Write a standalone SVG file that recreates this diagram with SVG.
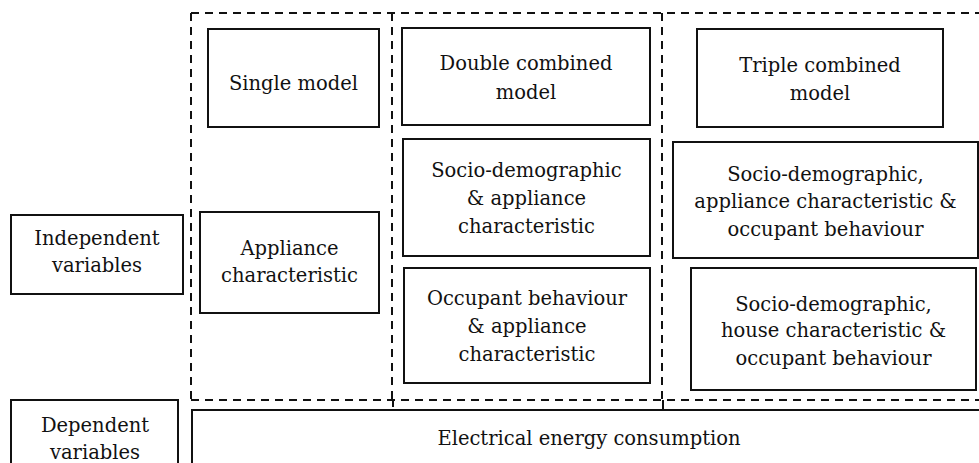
<svg xmlns="http://www.w3.org/2000/svg" width="979" height="463" viewBox="0 0 979 463">
<style>
.box{fill:#fff;stroke:#111;stroke-width:2}
.dash{fill:none;stroke:#111;stroke-width:2;stroke-dasharray:8 6}
.tick{fill:none;stroke:#111;stroke-width:2}
text{font-family:"DejaVu Serif","Liberation Serif",serif;font-size:19.5px;fill:#111;text-anchor:middle}
</style>
<rect width="979" height="463" fill="#fff"/>
<g id="connectors">
<path class="dash" d="M191,13 H985 M191,13 V400 M191,400 H985 M392,13 V400 M662,13 V400"/>
<path class="tick" d="M393,400 V407 M663,400 V410"/>
</g>
<g id="independent"><rect class="box" x="11" y="215" width="172" height="79"/><text x="97" y="245">Independent</text><text x="97" y="272">variables</text></g>
<g id="dependent"><rect class="box" x="11" y="400" width="167" height="70"/><text x="95" y="432">Dependent</text><text x="95" y="459">variables</text></g>
<g id="electrical"><rect class="box" x="192" y="410" width="795" height="60"/><text x="589" y="445">Electrical energy consumption</text></g>
<g id="single"><rect class="box" x="208" y="29" width="171" height="98"/><text x="293.5" y="90">Single model</text></g>
<g id="appliance"><rect class="box" x="200" y="212" width="179" height="101"/><text x="289.5" y="255">Appliance</text><text x="289.5" y="282">characteristic</text></g>
<g id="double"><rect class="box" x="402" y="28" width="248" height="97"/><text x="526" y="70">Double combined</text><text x="526" y="99">model</text></g>
<g id="socio-appliance"><rect class="box" x="403" y="139" width="247" height="117"/><text x="526.5" y="177">Socio-demographic</text><text x="526.5" y="205">&amp; appliance</text><text x="526.5" y="233">characteristic</text></g>
<g id="occupant-appliance"><rect class="box" x="404" y="268" width="246" height="115"/><text x="527" y="305">Occupant behaviour</text><text x="527" y="333">&amp; appliance</text><text x="527" y="361">characteristic</text></g>
<g id="triple"><rect class="box" x="697" y="29" width="246" height="98"/><text x="820" y="72">Triple combined</text><text x="820" y="100">model</text></g>
<g id="socio-appliance-occupant"><rect class="box" x="673" y="142" width="305" height="116"/><text x="825.5" y="181">Socio-demographic,</text><text x="825.5" y="208">appliance characteristic &amp;</text><text x="825.5" y="236">occupant behaviour</text></g>
<g id="socio-house-occupant"><rect class="box" x="691" y="268" width="285" height="122"/><text x="833.5" y="311">Socio-demographic,</text><text x="833.5" y="337">house characteristic &amp;</text><text x="833.5" y="365">occupant behaviour</text></g>
</svg>
